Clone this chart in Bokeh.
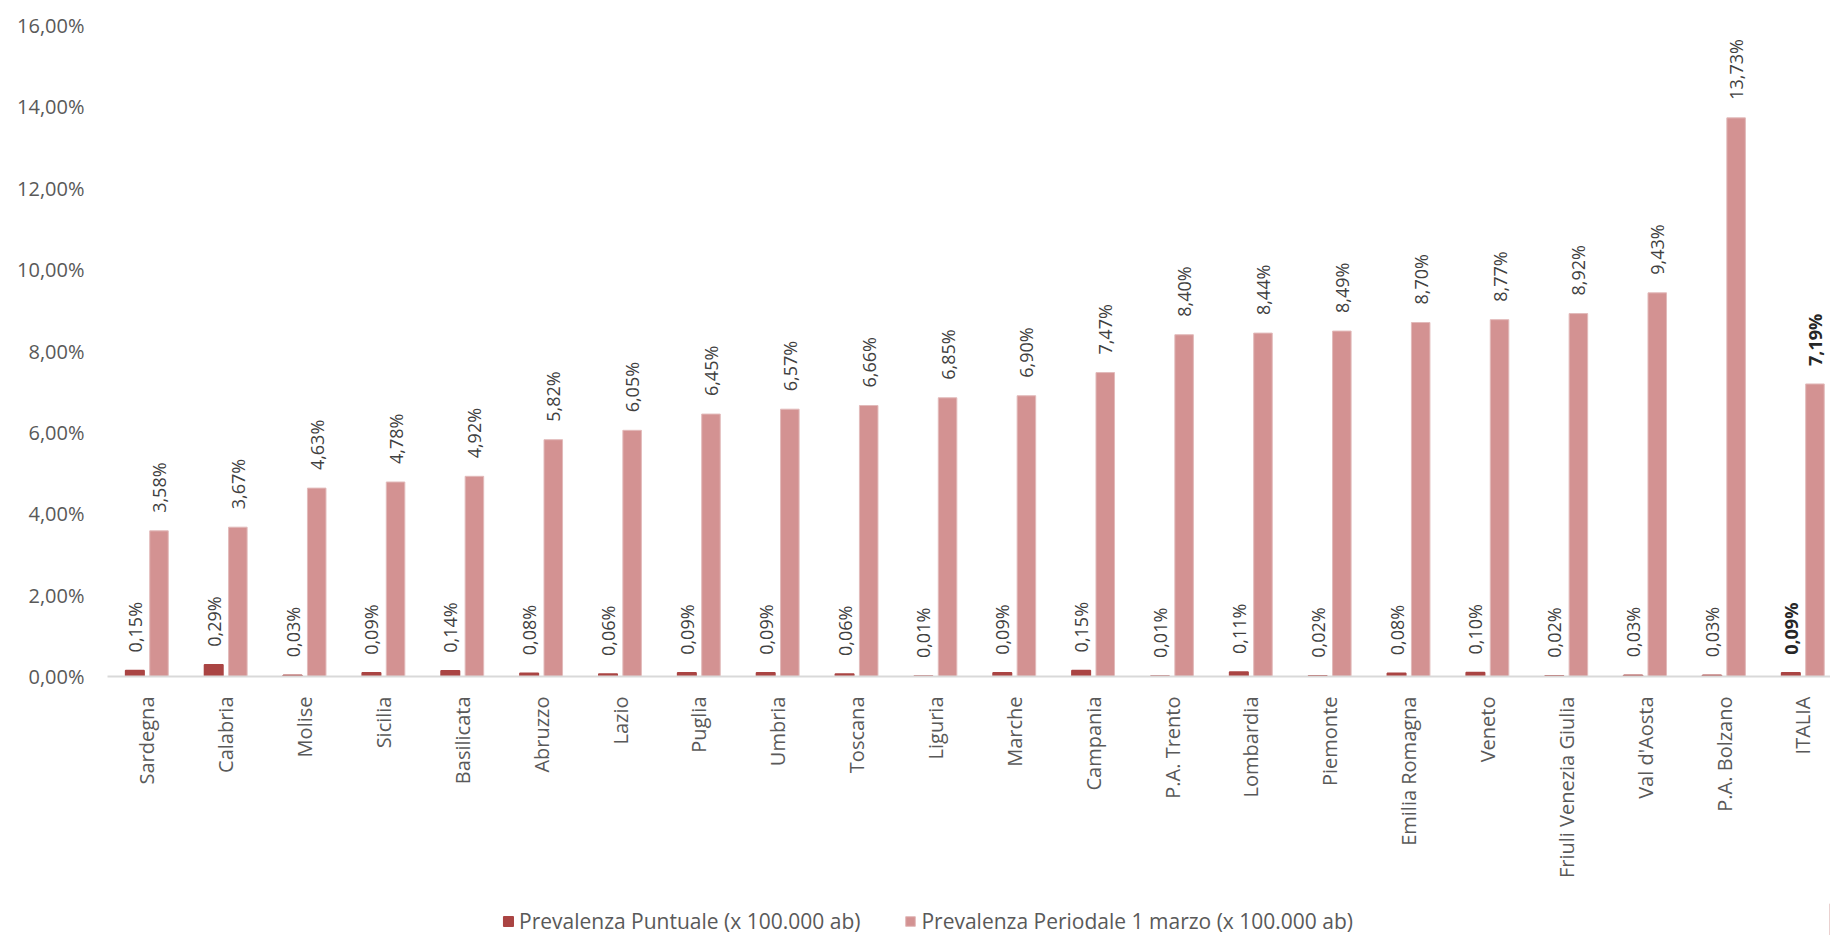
import math
from bokeh.plotting import figure
from bokeh.layouts import column
from bokeh.models import (ColumnDataSource, Range1d, FixedTicker, LabelSet,
                          Legend, LegendItem)
from bokeh.core.properties import value
from bokeh.embed import file_html
from bokeh.resources import INLINE

categories = ["Sardegna", "Calabria", "Molise", "Sicilia", "Basilicata", "Abruzzo",
              "Lazio", "Puglia", "Umbria", "Toscana", "Liguria", "Marche", "Campania",
              "P.A. Trento", "Lombardia", "Piemonte", "Emilia Romagna", "Veneto",
              "Friuli Venezia Giulia", "Val d'Aosta", "P.A. Bolzano", "ITALIA"]
puntuale = [0.15, 0.29, 0.03, 0.09, 0.14, 0.08, 0.06, 0.09, 0.09, 0.06, 0.01,
            0.09, 0.15, 0.01, 0.11, 0.02, 0.08, 0.10, 0.02, 0.03, 0.03, 0.09]
periodale = [3.58, 3.67, 4.63, 4.78, 4.92, 5.82, 6.05, 6.45, 6.57, 6.66, 6.85,
             6.90, 7.47, 8.40, 8.44, 8.49, 8.70, 8.77, 8.92, 9.43, 13.73, 7.19]
y_ticks = [0, 2, 4, 6, 8, 10, 12, 14, 16]
y_tick_labels = ["0,00%", "2,00%", "4,00%", "6,00%", "8,00%", "10,00%",
                 "12,00%", "14,00%", "16,00%"]
series_names = ["Prevalenza Puntuale (x 100.000 ab)",
                "Prevalenza Periodale 1 marzo (x 100.000 ab)"]

DARK = "#AA4443"
LIGHT = "#D39292"
FONT = "Open Sans"
TXT = "#595959"

n = len(categories)
centers = [i + 0.5 for i in range(n)]
off = 0.153
bw = 0.235

def fmt(v):
    return f"{v:.2f}".replace(".", ",") + "%"

src = ColumnDataSource(dict(
    xc=centers,
    x1=[c - off for c in centers],
    x2=[c + off for c in centers],
    p=puntuale,
    q=periodale,
    pl=[fmt(v) for v in puntuale],
    ql=[fmt(v) for v in periodale],
))

last = n - 1
src_reg = ColumnDataSource({k: v[:last] for k, v in src.data.items()})
src_it = ColumnDataSource({k: v[last:] for k, v in src.data.items()})

LEG_H = 32
p = figure(frame_width=1723, frame_height=651, output_backend="svg",
           toolbar_location=None,
           x_range=Range1d(0, 21.85), y_range=Range1d(0, 16),
           min_border_left=107, min_border_right=0, min_border_top=25,
           min_border_bottom=259 - LEG_H)
p.outline_line_color = None
p.grid.visible = False

bar_dark = dict(fill_color=DARK, line_color=DARK, line_width=1.5)
bar_light = dict(fill_color=LIGHT, line_color="#E2BABA", line_width=1)
p.vbar(x="x1", top="p", width=bw, source=src, **bar_dark)
p.vbar(x="x2", top="q", width=bw, source=src, **bar_light)

common = dict(angle=math.pi / 2, text_align="left", text_baseline="middle",
              text_font=value(FONT), text_font_size="18px", y_offset=18)
for s, bold in ((src_reg, "normal"), (src_it, "bold")):
    col = "#404040" if bold == "normal" else "#262626"
    p.add_layout(LabelSet(x="x1", y="p", text="pl", source=s, text_color=col,
                          text_font_style=bold, **common))
    p.add_layout(LabelSet(x="x2", y="q", text="ql", source=s, text_color=col,
                          text_font_style=bold, **common))

# y axis
ya = p.yaxis[0]
ya.ticker = FixedTicker(ticks=y_ticks)
ya.major_label_overrides = dict(zip(y_ticks, y_tick_labels))
ya.axis_line_color = None
ya.major_tick_line_color = None
ya.minor_tick_line_color = None
ya.major_label_standoff = 17
ya.major_label_text_font = FONT
ya.major_label_text_font_size = "20px"
ya.major_label_text_color = TXT

# x axis
xa = p.xaxis[0]
xa.ticker = FixedTicker(ticks=centers)
xa.major_label_overrides = dict(zip(centers, categories))
xa.major_label_orientation = math.pi / 2
xa.axis_line_color = "#D9D9D9"
xa.axis_line_width = 2
xa.major_tick_line_color = None
xa.minor_tick_line_color = None
xa.major_label_standoff = 14
xa.major_label_text_font = FONT
xa.major_label_text_font_size = "20px"
xa.major_label_text_color = TXT

# legend strip (separate small figure so the legend is not clipped)
lg = figure(width=1830, height=LEG_H, output_backend="svg", toolbar_location=None,
            x_range=Range1d(0, 1), y_range=Range1d(0, 1),
            min_border=0, x_axis_type=None, y_axis_type=None)
lg.outline_line_color = None
lg.grid.visible = False
hidden = ColumnDataSource(dict(x=[10], top=[1]))
d1 = lg.vbar(x="x", top="top", width=0.1, source=hidden, **bar_dark)
d2 = lg.vbar(x="x", top="top", width=0.1, source=hidden, **bar_light)
legend = Legend(items=[LegendItem(label=series_names[0], renderers=[d1]),
                       LegendItem(label=series_names[1], renderers=[d2])],
                orientation="horizontal", location=(395, 0),
                label_text_font=FONT, label_text_font_size="21px",
                label_text_color=TXT, glyph_width=12, glyph_height=12,
                spacing=44, border_line_color=None, background_fill_alpha=0,
                margin=0, padding=0, label_standoff=5)
lg.add_layout(legend)

layout = column(p, lg, spacing=0)
open("out.html", "w").write(file_html(layout, INLINE))
